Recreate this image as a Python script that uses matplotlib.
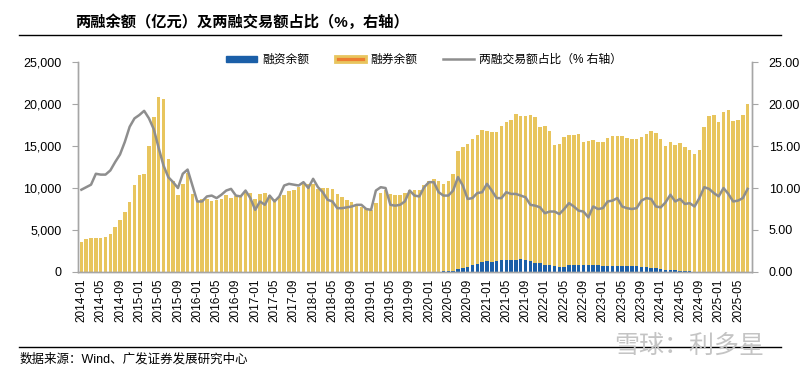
import matplotlib

matplotlib.use("Agg")
import matplotlib.pyplot as plt
import numpy as np
from matplotlib.lines import Line2D
from matplotlib.patches import Patch
from matplotlib.ticker import FuncFormatter, MultipleLocator

plt.rcParams["font.family"] = ["Liberation Sans", "Noto Sans CJK SC", "DejaVu Sans"]

# monthly, 2014-01 .. 2025-07
months = [f"{y}-{m:02d}" for y in range(2014, 2026) for m in range(1, 13)][:139]

# total balance (top of stacked bar), 亿元
total_balance = [
    3600, 3900, 4040, 4040, 4040, 4120, 4470, 5350, 6180, 7090, 8360, 10340,
    11600, 11680, 15050, 18450, 20900, 20590, 13460, 10810, 9150, 10450, 11840, 9230,
    8360, 8750, 8670, 8430, 8590, 8670, 9150, 8870, 9000, 9000, 9540, 9460,
    8750, 9230, 9350, 9150, 8670, 8950, 9150, 9620, 9820, 10140, 10450, 10530,
    10530, 9940, 10060, 9980, 9940, 9230, 8990, 8630, 8320, 8080, 7760, 7520,
    7330, 8160, 9350, 9740, 9230, 9190, 9190, 9390, 9740, 9820, 9740, 10340,
    10810, 11130, 10810, 10530, 10850, 11720, 14370, 14850, 15290, 15800, 16280, 16870,
    16750, 16630, 16630, 17340, 17860, 18100, 18770, 18530, 18570, 18650, 18410, 17270,
    17380, 16790, 15170, 15290, 16120, 16350, 16280, 16400, 15480, 15560, 15760, 15480,
    15440, 15960, 16160, 16160, 16240, 15960, 15880, 15840, 16040, 16430, 16830, 16590,
    15800, 14970, 15480, 15170, 15360, 14890, 14490, 14020, 14490, 17270, 18530, 18730,
    17860, 19050, 19320, 17980, 18060, 18650, 19960,
]

# blue segment at the bottom of each bar, 亿元
blue_balance = [0] * 75 + [
    80, 120, 160, 360, 510, 630, 830, 990, 1190, 1270, 1230, 1310,
    1390, 1430, 1430, 1430, 1500, 1430, 1310, 1110, 1030, 790, 790, 750,
    630, 630, 790, 830, 870, 790, 870, 830, 790, 750, 750, 750,
    750, 750, 750, 750, 710, 630, 550, 510, 475, 400, 240, 200,
    200, 160, 120, 80,
] + [0] * 12

# 两融交易额占比, %
turnover_share = [
    9.8, 10.1, 10.4, 11.7, 11.6, 11.6, 12.1, 13.1, 14.0, 15.5, 17.3, 18.3,
    18.7, 19.2, 18.3, 17.0, 14.8, 12.7, 11.3, 10.7, 10.0, 11.7, 12.2, 10.3,
    8.4, 8.4, 9.0, 9.1, 8.8, 9.2, 9.7, 9.9, 9.1, 9.0, 9.7, 8.8,
    7.4, 8.4, 8.0, 9.1, 8.4, 9.0, 10.3, 10.5, 10.4, 10.3, 10.7, 10.0,
    11.1, 10.1, 9.5, 8.6, 8.4, 7.6, 7.6, 7.7, 7.8, 8.0, 8.0, 7.5,
    7.4, 9.7, 10.1, 10.0, 8.0, 7.9, 8.0, 8.4, 9.7, 9.1, 9.0, 10.1,
    10.7, 10.7, 9.5, 9.1, 9.1, 9.7, 11.3, 10.3, 8.7, 8.8, 9.4, 9.5,
    10.5, 9.7, 8.8, 8.8, 9.5, 9.3, 9.3, 9.1, 8.9, 8.0, 7.9, 7.7,
    7.0, 7.2, 7.2, 6.9, 7.5, 8.2, 7.8, 7.3, 7.2, 6.5, 7.8, 7.5,
    7.6, 8.4, 8.5, 8.8, 7.8, 7.6, 7.5, 7.6, 8.5, 8.8, 8.7, 7.8,
    7.7, 8.3, 9.2, 8.4, 8.7, 8.1, 8.2, 7.8, 8.8, 10.1, 9.9, 9.4,
    9.0, 10.0, 9.3, 8.4, 8.5, 8.8, 9.9,
]

YELLOW = "#E8C55E"
BLUE = "#1B5FA8"
GREY = "#8E8E8E"
AXIS = "#A6A6A6"

x = np.arange(len(months))
blue = np.array(blue_balance)
yellow = np.array(total_balance) - blue

fig = plt.figure(figsize=(8, 3.7), dpi=100)
ax = fig.add_axes([0.0975, 0.265, 0.8425, 0.567])
ax2 = ax.twinx()

ax.bar(x, blue, width=0.72, color=BLUE, zorder=2)
ax.bar(x, yellow, bottom=blue, width=0.72, color=YELLOW, zorder=2)
ax2.plot(x, turnover_share, color=GREY, lw=1.8, zorder=3)

ax.set_xlim(-0.7, 138.9)
ax.set_ylim(0, 25000)
ax2.set_ylim(0, 25)
ax.yaxis.set_major_locator(MultipleLocator(5000))
ax2.yaxis.set_major_locator(MultipleLocator(5))
ax.yaxis.set_major_formatter(FuncFormatter(lambda v, _: f"{v:,.0f}"))
ax2.yaxis.set_major_formatter(FuncFormatter(lambda v, _: f"{v:.2f}"))

ax.set_xticks(x[::4])
ax.set_xticklabels(months[::4], rotation=90, fontsize=8.5)
ax.tick_params(axis="x", length=0, pad=5)
ax.tick_params(axis="y", labelsize=9, length=4, color=AXIS, direction="out", pad=8)
ax2.tick_params(axis="y", labelsize=9, length=4, color=AXIS, direction="out", pad=8)

for a in (ax, ax2):
    a.spines["top"].set_visible(False)
    for s in ("left", "right", "bottom"):
        a.spines[s].set_color(AXIS)
        a.spines[s].set_linewidth(1.0)

handles = [
    Patch(facecolor=BLUE, edgecolor=BLUE, label="融资余额"),
    Patch(facecolor="#ED7D31", edgecolor=YELLOW, linewidth=2, label="融券余额"),
    Line2D([], [], color=GREY, lw=1.8, label="两融交易额占比（% 右轴）"),
]
fig.legend(handles=handles, loc="center", bbox_to_anchor=(0.53, 0.838), ncol=3,
           frameon=False, fontsize=8.5, handlelength=2.6, handleheight=0.45,
           columnspacing=2.2, handletextpad=0.4)

fig.text(0.094, 0.94, "两融余额（亿元）及两融交易额占比（%，右轴）", fontsize=11,
         fontweight="bold", va="center", ha="left")
fig.add_artist(Line2D([0.024, 0.976], [0.905, 0.905], color="black", lw=1.0))
fig.add_artist(Line2D([0.024, 0.976], [0.062, 0.062], color="black", lw=1.0))
fig.text(0.024, 0.028, "数据来源：Wind、广发证券发展研究中心", fontsize=9, va="center", ha="left")
fig.text(0.955, 0.066, "雪球：利多星", fontsize=18, color="#C4C4C4", va="center", ha="right")

fig.savefig("out.png", dpi=100)
